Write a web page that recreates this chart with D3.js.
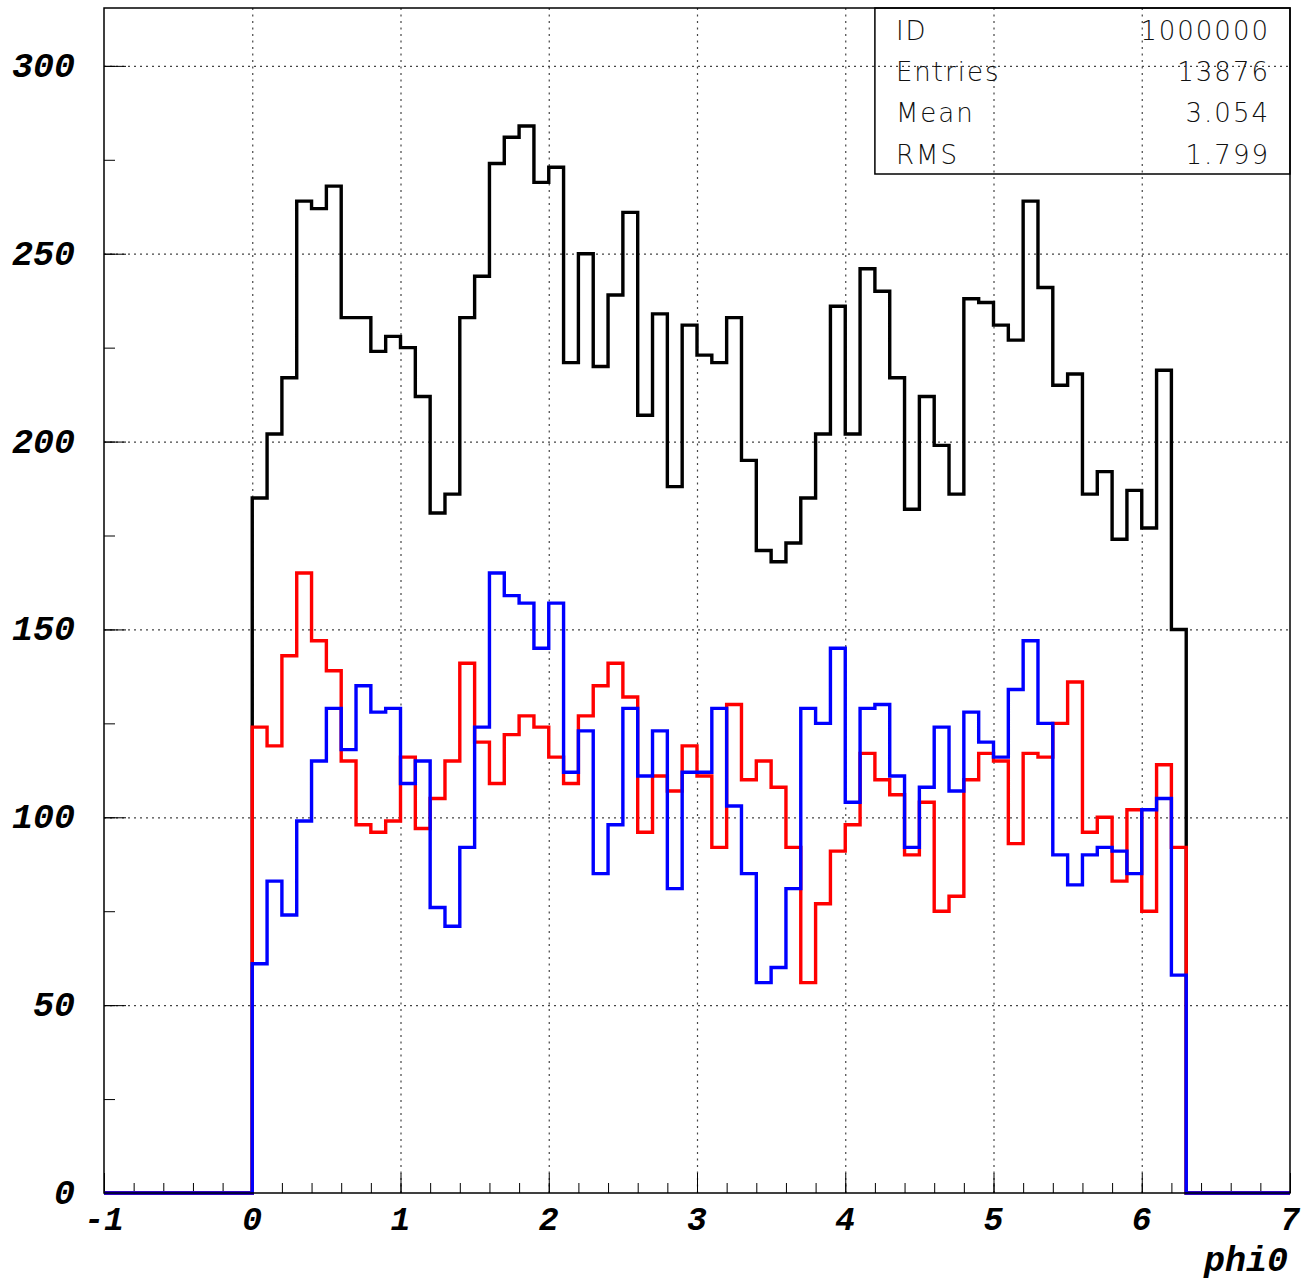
<!DOCTYPE html>
<html>
<head>
<meta charset="utf-8">
<script src="https://cdn.jsdelivr.net/npm/d3@7"></script>
<style>
  body { margin: 0; background: #fff; }
  .tick-label { font-family: "Liberation Mono", "DejaVu Sans Mono", monospace; font-weight: bold; font-style: italic; fill: #000; }
  .stats text { font-family: "DejaVu Sans", "Liberation Sans", sans-serif; font-weight: 200; fill: #111; letter-spacing: 2px; }
</style>
</head>
<body>
<script>
// histogram bins: 0.1 wide, starting at phi0 = 0
var binWidth = 0.1;
var binStart = 0;

// bin contents
var totalCounts = [185, 202, 217, 264, 262, 268, 233, 233, 224, 228,
  225, 212, 181, 186, 233, 244, 274, 281, 284, 269,
  273, 221, 250, 220, 239, 261, 207, 234, 188, 231,
  223, 221, 233, 195, 171, 168, 173, 185, 202, 236,
  202, 246, 240, 217, 182, 212, 199, 186, 238, 237,
  231, 227, 264, 241, 215, 218, 186, 192, 174, 187,
  177, 219, 150];

var redCounts = [124, 119, 143, 165, 147, 139, 115, 98, 96, 99,
  116, 97, 105, 115, 141, 120, 109, 122, 127, 124,
  116, 109, 127, 135, 141, 132, 96, 111, 107, 119,
  111, 92, 130, 110, 115, 108, 92, 56, 77, 91,
  98, 117, 110, 106, 90, 104, 75, 79, 110, 117,
  115, 93, 117, 116, 125, 136, 96, 100, 83, 102,
  75, 114, 92];

var blueCounts = [61, 83, 74, 99, 115, 129, 118, 135, 128, 129,
  109, 115, 76, 71, 92, 124, 165, 159, 157, 145,
  157, 112, 123, 85, 98, 129, 111, 123, 81, 112,
  112, 129, 103, 85, 56, 60, 81, 129, 125, 145,
  104, 129, 130, 111, 92, 108, 124, 107, 128, 120,
  116, 134, 147, 125, 90, 82, 90, 92, 91, 85,
  102, 105, 58];

// axis ticks
var xTicks = [-1, 0, 1, 2, 3, 4, 5, 6, 7];
var yTicks = [0, 50, 100, 150, 200, 250, 300];
var xTitle = "phi0";

// statistics box
var statNames = ["ID", "Entries", "Mean", "RMS"];
var statValues = ["1000000", "13876", "3.054", "1.799"];

var svgWidth = 1308;
var svgHeight = 1281;
var margin = { top: 8, right: 18, bottom: 88, left: 104 };
var width = svgWidth - margin.left - margin.right;
var height = svgHeight - margin.top - margin.bottom;

var svg = d3.select("body").append("svg")
  .attr("width", svgWidth)
  .attr("height", svgHeight);

var g = svg.append("g")
  .attr("transform", `translate(${margin.left}, ${margin.top})`);

var x = d3.scaleLinear().domain([-1, 7]).range([0, width]);
var y = d3.scaleLinear().domain([0, 315.4]).range([height, 0]);

// dotted grid
g.append("g")
  .attr("transform", `translate(0, ${height})`)
  .call(d3.axisBottom(x).tickValues(xTicks.slice(1, -1)).tickSize(-height).tickFormat(""))
  .call(a => a.select(".domain").remove())
  .selectAll("line")
  .attr("stroke", "#444")
  .attr("stroke-width", 1.2)
  .attr("stroke-dasharray", "2,4.5");

g.append("g")
  .call(d3.axisLeft(y).tickValues(yTicks.slice(1)).tickSize(-width).tickFormat(""))
  .call(a => a.select(".domain").remove())
  .selectAll("line")
  .attr("stroke", "#444")
  .attr("stroke-width", 1.2)
  .attr("stroke-dasharray", "2,4");

// ticks pointing into the frame
var xMinor = d3.range(-1, 7.001, 0.2).map(d => +d.toFixed(1));
var yMinor = d3.range(0, 315, 25);

g.append("g")
  .attr("transform", `translate(0, ${height})`)
  .call(d3.axisBottom(x).tickValues(xMinor).tickSizeInner(-10).tickSizeOuter(0).tickFormat(""))
  .call(a => a.select(".domain").remove());
g.append("g")
  .attr("transform", `translate(0, ${height})`)
  .call(d3.axisBottom(x).tickValues(xTicks).tickSizeInner(-20).tickSizeOuter(0).tickFormat(""))
  .call(a => a.select(".domain").remove());
g.append("g")
  .call(d3.axisLeft(y).tickValues(yMinor).tickSizeInner(-11).tickSizeOuter(0).tickFormat(""))
  .call(a => a.select(".domain").remove());
g.append("g")
  .call(d3.axisLeft(y).tickValues(yTicks).tickSizeInner(-22).tickSizeOuter(0).tickFormat(""))
  .call(a => a.select(".domain").remove());

// tick labels
g.selectAll(".xlab")
  .data(xTicks)
  .enter()
  .append("text")
  .attr("class", "tick-label")
  .attr("x", d => x(d))
  .attr("y", height + 37)
  .attr("text-anchor", "middle")
  .style("font-size", "33px")
  .text(d => d);

g.selectAll(".ylab")
  .data(yTicks)
  .enter()
  .append("text")
  .attr("class", "tick-label")
  .attr("x", -29)
  .attr("y", d => y(d) + 11)
  .attr("text-anchor", "end")
  .style("font-size", "35px")
  .text(d => d);

g.append("text")
  .attr("class", "tick-label")
  .attr("x", width - 2)
  .attr("y", height + 78)
  .attr("text-anchor", "end")
  .style("font-size", "35px")
  .text(xTitle);

// step outline for one histogram, zero outside the filled bins
function histPath(counts) {
  var pts = [[-1, 0]];
  counts.forEach(function(c, i) {
    pts.push([binStart + i * binWidth, c]);
  });
  pts.push([binStart + counts.length * binWidth, 0]);
  pts.push([7, 0]);
  return d3.line()
    .x(d => x(d[0]))
    .y(d => y(d[1]))
    .curve(d3.curveStepAfter)(pts);
}

var series = [
  { counts: totalCounts, color: "#000000" },
  { counts: redCounts, color: "#ff0000" },
  { counts: blueCounts, color: "#0000ff" }
];

g.selectAll(".hist")
  .data(series)
  .enter()
  .append("path")
  .attr("class", "hist")
  .attr("d", d => histPath(d.counts))
  .attr("fill", "none")
  .attr("stroke", d => d.color)
  .attr("stroke-width", 3.4)
  .attr("stroke-linejoin", "miter");

// frame
g.append("rect")
  .attr("width", width)
  .attr("height", height)
  .attr("fill", "none")
  .attr("stroke", "#000")
  .attr("stroke-width", 1.5);

// statistics box
var boxX = x(4.2);
var boxW = width - boxX;
var boxH = 166;
var stats = g.append("g").attr("class", "stats");

stats.append("rect")
  .attr("x", boxX)
  .attr("y", 0)
  .attr("width", boxW)
  .attr("height", boxH)
  .attr("fill", "none")
  .attr("stroke", "#000")
  .attr("stroke-width", 1.5);

var rowY = d3.scalePoint().domain(statNames).range([31.5, 155.5]);

stats.selectAll(".sname")
  .data(statNames)
  .enter()
  .append("text")
  .attr("x", boxX + 21)
  .attr("y", d => rowY(d))
  .style("font-size", "26px")
  .text(d => d);

stats.selectAll(".svalue")
  .data(statValues)
  .enter()
  .append("text")
  .attr("x", width - 20)
  .attr("y", (d, i) => rowY(statNames[i]))
  .attr("text-anchor", "end")
  .style("font-size", "26px")
  .text(d => d);
</script>
</body>
</html>
